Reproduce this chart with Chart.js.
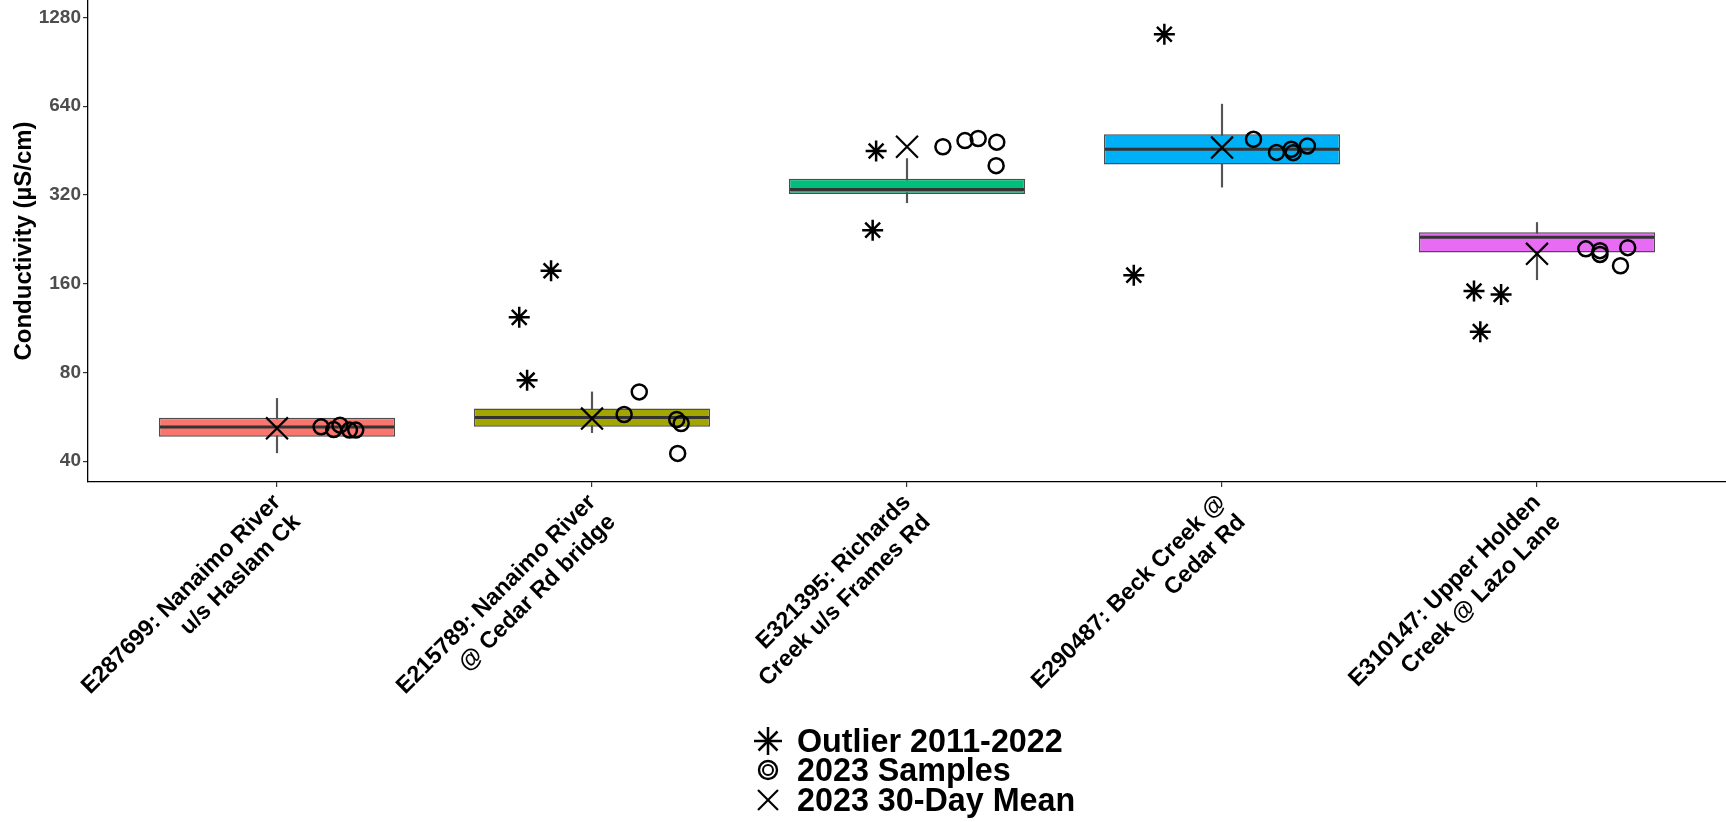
<!DOCTYPE html>
<html>
<head>
<meta charset="utf-8">
<script src="https://cdn.jsdelivr.net/npm/chart.js@4.4.1/dist/chart.umd.min.js"></script>
<style>
  html, body { margin: 0; padding: 0; background: #fff; }
  #wrap { position: relative; width: 1726px; height: 822px; }
  .row {
    position: absolute; left: 753px; height: 30px; line-height: 30px;
    display: flex; align-items: center; white-space: nowrap;
    font: bold 32.3px "Liberation Sans", Arial, sans-serif; color: #000;
  }
  .row svg { width: 30px; height: 30px; margin-right: 14px; flex: none; }
</style>
</head>
<body>
<div id="wrap">
  <canvas id="chart" width="1726" height="822"></canvas>
  <div class="row" style="top:726px">
    <svg viewBox="0 0 30 30"><g stroke="#000" stroke-width="2.5">
      <line x1="15" y1="1" x2="15" y2="29"/><line x1="1" y1="15" x2="29" y2="15"/>
      <line x1="5.5" y1="5.5" x2="24.5" y2="24.5"/><line x1="24.5" y1="5.5" x2="5.5" y2="24.5"/></g></svg>
    <span>Outlier 2011-2022</span>
  </div>
  <div class="row" style="top:755px">
    <svg viewBox="0 0 30 30"><g stroke="#000" fill="none">
      <circle cx="15" cy="15" r="9" stroke-width="2.4"/><circle cx="15" cy="15" r="5" stroke-width="2"/></g></svg>
    <span>2023 Samples</span>
  </div>
  <div class="row" style="top:785px">
    <svg viewBox="0 0 30 30"><g stroke="#000" stroke-width="2.2">
      <line x1="5" y1="5" x2="25" y2="25"/><line x1="25" y1="5" x2="5" y2="25"/></g></svg>
    <span>2023 30-Day Mean</span>
  </div>
</div>
<script>
// stations (two-line labels)
const sites = [
  ["E287699: Nanaimo River", "u/s Haslam Ck"],
  ["E215789: Nanaimo River", "@ Cedar Rd bridge"],
  ["E321395: Richards", "Creek u/s Frames Rd"],
  ["E290487: Beck Creek @", "Cedar Rd"],
  ["E310147: Upper Holden", "Creek @ Lazo Lane"]
];
const boxColors = ["#F8766D", "#A3A500", "#00BF7D", "#00B0F6", "#E76BF3"];

// 2011-2022 box stats (uS/cm)
const whiskerLow  = [42.7, 50.0, 301, 340, 165];
const boxQ1       = [48.4, 52.3, 322, 406, 204];
const boxMedian   = [52.2, 56.3, 334, 457, 230];
const boxQ3       = [56.1, 60.4, 363, 514, 239];
const whiskerHigh = [65.3, 68.7, 425, 650, 258];

const mean30Day = [51.7, 55.8, 466, 463, 202];

const samples2023 = [
  [52.3, 51.2, 53.0, 51.0, 51.0],
  [68.7, 57.6, 55.4, 53.7, 42.5],
  [466, 489, 497, 483, 402],
  [494, 446, 457, 445, 469],
  [210, 207, 201, 184, 212]
];
const samplesJitter = [
  [0.14, 0.18, 0.20, 0.23, 0.25],
  [0.150, 0.102, 0.269, 0.283, 0.272],
  [0.114, 0.184, 0.226, 0.285, 0.283],
  [0.100, 0.173, 0.220, 0.226, 0.271],
  [0.155, 0.200, 0.200, 0.265, 0.288]
];

const outliers = [
  [],
  [177, 123, 75.3],
  [451, 243],
  [1122, 171],
  [151, 147, 110]
];
const outliersJitter = [
  [],
  [-0.130, -0.231, -0.206],
  [-0.098, -0.109],
  [-0.183, -0.280],
  [-0.200, -0.114, -0.180]
];

const yTicks = [40, 80, 160, 320, 640, 1280];

Chart.defaults.font.family = '"Liberation Sans", Arial, sans-serif';

const points = (vals, jit) => vals.flatMap((arr, i) => arr.map((v, j) => ({ x: i + jit[i][j], y: v })));

const ctx = document.getElementById("chart").getContext("2d");
new Chart(ctx, {
  type: "bar",
  data: {
    datasets: [
      {
        type: "bar",
        data: sites.map((s, i) => ({ x: i, y: [whiskerLow[i], whiskerHigh[i]] })),
        backgroundColor: "#555",
        barThickness: 1.5,
        grouped: false,
        order: 5
      },
      {
        type: "bar",
        data: sites.map((s, i) => ({ x: i, y: [boxQ1[i], boxQ3[i]] })),
        backgroundColor: boxColors,
        borderColor: "#4d4d4d",
        borderWidth: 1.5,
        borderSkipped: false,
        barPercentage: 0.75,
        categoryPercentage: 1,
        grouped: false,
        order: 4
      },
      {
        type: "scatter",
        data: sites.map((s, i) => ({ x: i, y: boxMedian[i] })),
        pointStyle: "line",
        pointRadius: 117,
        borderColor: "#333",
        borderWidth: 3,
        order: 3
      },
      {
        type: "scatter",
        data: points(samples2023, samplesJitter),
        pointStyle: "circle",
        pointRadius: 7.5,
        borderColor: "#000",
        backgroundColor: "rgba(0,0,0,0)",
        borderWidth: 2.5,
        order: 2
      },
      {
        type: "scatter",
        data: points(outliers, outliersJitter),
        pointStyle: "star",
        pointRadius: 10.5,
        borderColor: "#000",
        borderWidth: 2.5,
        order: 1
      },
      {
        type: "scatter",
        data: sites.map((s, i) => ({ x: i, y: mean30Day[i] })),
        pointStyle: "crossRot",
        pointRadius: 15.5,
        borderColor: "#000",
        borderWidth: 2.2,
        order: 0
      }
    ]
  },
  options: {
    responsive: false,
    animation: false,
    devicePixelRatio: 1,
    layout: { padding: 0, autoPadding: false },
    plugins: { legend: { display: false }, tooltip: { enabled: false } },
    scales: {
      x: {
        type: "linear",
        min: -0.6,
        max: 4.6,
        offset: false,
        afterBuildTicks: (scale) => { scale.ticks = sites.map((s, i) => ({ value: i })); },
        afterFit: (scale) => { scale.height = 340; scale.paddingLeft = 0; scale.paddingRight = 0; },
        grid: { display: true, offset: false, drawOnChartArea: false, drawTicks: true, tickLength: 5, color: "#333", lineWidth: 1.2 },
        border: { display: true, color: "#000", width: 1.3 },
        ticks: {
          autoSkip: false,
          maxRotation: 45,
          minRotation: 45,
          padding: 2,
          color: "#000",
          font: { size: 23.3, weight: "bold" },
          callback: (v) => sites[v]
        }
      },
      y: {
        type: "logarithmic",
        min: 34,
        max: 1466,
        afterBuildTicks: (scale) => { scale.ticks = yTicks.map(v => ({ value: v })); },
        afterFit: (scale) => { scale.width = 88; scale.paddingTop = 0; scale.paddingBottom = 0; },
        grid: { display: true, drawOnChartArea: false, drawTicks: true, tickLength: 5, color: "#333", lineWidth: 1.2 },
        border: { display: true, color: "#000", width: 1.3 },
        ticks: {
          padding: 2,
          color: "#4d4d4d",
          font: { size: 19, weight: "bold" },
          callback: (v) => String(v)
        },
        title: {
          display: true,
          text: "Conductivity (µS/cm)",
          color: "#000",
          font: { size: 24, weight: "bold" },
          padding: { top: 10, bottom: 0 }
        }
      }
    }
  }
});
</script>
</body>
</html>
